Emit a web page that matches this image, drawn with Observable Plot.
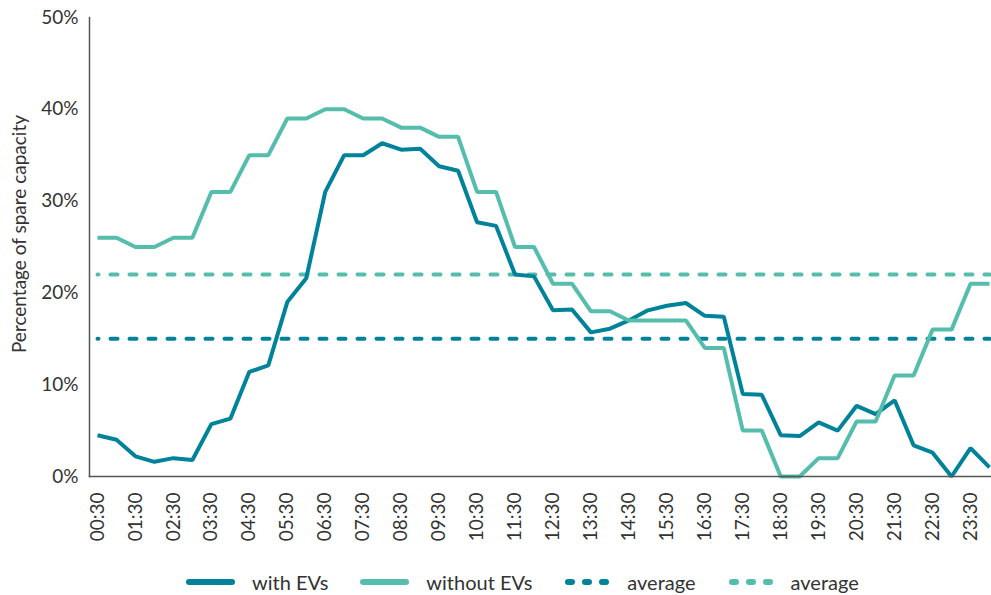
<!DOCTYPE html>
<html>
<head>
<meta charset="utf-8">
<script src="https://cdn.jsdelivr.net/npm/d3@7"></script>
<script src="https://cdn.jsdelivr.net/npm/@observablehq/plot@0.6"></script>
<style>
  html, body { margin: 0; padding: 0; background: #fff; }
  body { width: 991px; height: 595px; overflow: hidden; font-family: Lato, "Open Sans", sans-serif; }
  #chart svg { display: block; }
  #legend { display: flex; align-items: center; height: 44px; padding-left: 186px; color: #333; font-size: 20px; }
  #legend .item { display: flex; align-items: center; }
  #legend .item svg { display: block; margin-right: 17px; }
  #legend .item + .item { margin-left: 32px; }
</style>
</head>
<body>
<div id="chart"></div>
<div id="legend"></div>
<script>
// Half-hourly time slots (categories)
const times = [
  "00:30","01:00","01:30","02:00","02:30","03:00","03:30","04:00",
  "04:30","05:00","05:30","06:00","06:30","07:00","07:30","08:00",
  "08:30","09:00","09:30","10:00","10:30","11:00","11:30","12:00",
  "12:30","13:00","13:30","14:00","14:30","15:00","15:30","16:00",
  "16:30","17:00","17:30","18:00","18:30","19:00","19:30","20:00",
  "20:30","21:00","21:30","22:00","22:30","23:00","23:30","24:00"
];
// Tick labels shown on the x axis
const tickLabels = [
  "00:30","01:30","02:30","03:30","04:30","05:30","06:30","07:30",
  "08:30","09:30","10:30","11:30","12:30","13:30","14:30","15:30",
  "16:30","17:30","18:30","19:30","20:30","21:30","22:30","23:30"
];
// Percentage of spare capacity, with EVs
const withEVs = [
  4.5, 4.0, 2.2, 1.6, 2.0, 1.8, 5.7, 6.3,
  11.4, 12.1, 19.0, 21.6, 31.0, 35.0, 35.0, 36.3,
  35.6, 35.7, 33.8, 33.3, 27.7, 27.3, 22.0, 21.8,
  18.1, 18.2, 15.7, 16.1, 17.0, 18.1, 18.6, 18.9,
  17.5, 17.4, 9.0, 8.9, 4.5, 4.4, 5.9, 5.0,
  7.7, 6.8, 8.3, 3.4, 2.6, 0.0, 3.1, 1.0
];
// Percentage of spare capacity, without EVs
const withoutEVs = [
  26, 26, 25, 25, 26, 26, 31, 31,
  35, 35, 39, 39, 40, 40, 39, 39,
  38, 38, 37, 37, 31, 31, 25, 25,
  21, 21, 18, 18, 17, 17, 17, 17,
  14, 14, 5, 5, 0, 0, 2, 2,
  6, 6, 11, 11, 16, 16, 21, 21
];
// Averages
const averageWithEVs = 15;
const averageWithoutEVs = 22;
const yTicks = [0, 10, 20, 30, 40, 50];
const seriesNames = ["with EVs", "without EVs", "average", "average"];

const darkTeal = "#00839a";
const lightTeal = "#55bdab";
const textColor = "#333333";
const axisColor = "#555555";

const lineRows = times.flatMap((t, i) => [
  {t, v: withEVs[i], s: "with"},
  {t, v: withoutEVs[i], s: "without"}
]);
const avgRows = times.flatMap(t => [
  {t, v: averageWithEVs, s: "avgWith"},
  {t, v: averageWithoutEVs, s: "avgWithout"}
]);

const chart = Plot.plot({
  width: 991,
  height: 560,
  marginLeft: 89,
  marginRight: 0,
  marginTop: 17,
  marginBottom: 84,
  style: {fontFamily: "Lato, 'Open Sans', sans-serif", fontSize: "19px", color: textColor, background: "#fff", overflow: "visible"},
  x: {type: "point", domain: times, range: [97, 989], padding: 0},
  y: {domain: [0, 50]},
  color: {domain: ["with", "without", "avgWith", "avgWithout"], range: [darkTeal, lightTeal, darkTeal, lightTeal]},
  marks: [
    Plot.lineY(avgRows, {x: "t", y: "v", z: "s", stroke: "s", strokeWidth: 4,
      strokeDasharray: "7,12", strokeDashoffset: 6, strokeLinecap: "round"}),
    Plot.lineY(lineRows, {x: "t", y: "v", z: "s", stroke: "s", strokeWidth: 4,
      strokeLinejoin: "miter", strokeLinecap: "butt"}),
    Plot.frame({anchor: "left", stroke: axisColor, strokeWidth: 1.5}),
    Plot.frame({anchor: "bottom", stroke: axisColor, strokeWidth: 1.5}),
    Plot.axisY(yTicks, {tickSize: 0, tickPadding: 11, tickFormat: d => d + "%", label: null, fontSize: 19, fill: textColor}),
    Plot.axisX(tickLabels, {tickSize: 0, tickPadding: 16, tickRotate: -90, label: null, fontSize: 19, fill: textColor}),
    Plot.text(["Percentage of spare capacity"], {frameAnchor: "left", rotate: -90, textAnchor: "middle",
      lineAnchor: "middle", dx: -70, dy: -13, fontSize: 19, fill: textColor})
  ]
});
document.getElementById("chart").appendChild(chart);

// Legend
const legend = document.getElementById("legend");
const swatches = [
  {color: darkTeal, dashed: false},
  {color: lightTeal, dashed: false},
  {color: darkTeal, dashed: true},
  {color: lightTeal, dashed: true}
];
seriesNames.forEach((name, i) => {
  const sw = swatches[i];
  const item = document.createElement("div");
  item.className = "item";
  const w = sw.dashed ? 46 : 49;
  const line = sw.dashed
    ? `<line x1="4" x2="42" y1="5" y2="5" stroke="${sw.color}" stroke-width="6" stroke-linecap="round" stroke-dasharray="4,13"/>`
    : `<line x1="3" x2="${w - 3}" y1="5" y2="5" stroke="${sw.color}" stroke-width="6" stroke-linecap="round"/>`;
  item.innerHTML = `<svg width="${w}" height="10">${line}</svg><span>${name}</span>`;
  legend.appendChild(item);
});
</script>
</body>
</html>
